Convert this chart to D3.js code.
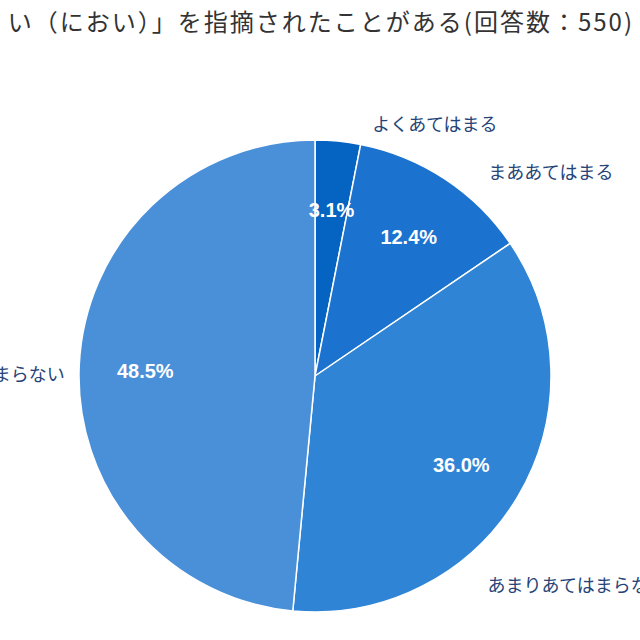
<!DOCTYPE html>
<html><head><meta charset="utf-8">
<script src="https://cdn.jsdelivr.net/npm/d3@7"></script>
<style>body{margin:0;background:#fff}svg{display:block}</style>
</head><body>
<svg id="c" width="640" height="640"></svg>
<script>
const titleText = "い（におい）」を指摘されたことがある(回答数：550)";
const categories = ["よくあてはまる", "まああてはまる", "あまりあてはまらない", "あてはまらない"];
const values = [3.1, 12.4, 36.0, 48.5];
const colors = ["#0563c1", "#1b72cf", "#2f84d6", "#4a90d9"];

const svg = d3.select("#c");
const cx = 315, cy = 376, R = 236;
const g = svg.append("g").attr("transform", `translate(${cx},${cy})`);

const pie = d3.pie().sort(null).value(d => d.v);
const arcs = pie(categories.map((c, i) => ({c, v: values[i], col: colors[i]})));
const arc = d3.arc().innerRadius(0).outerRadius(R);
const inner = d3.arc().innerRadius(R * 0.72).outerRadius(R * 0.72);

g.selectAll("path").data(arcs).join("path")
  .attr("d", arc).attr("fill", d => d.data.col)
  .attr("stroke", "#fff").attr("stroke-width", 1.5).attr("stroke-linejoin", "round");

g.selectAll("text.pct").data(arcs).join("text").attr("class", "pct")
  .attr("transform", d => { const [x, y] = inner.centroid(d); return `translate(${x},${y + 3})`; })
  .attr("text-anchor", "middle").attr("dy", "0.35em")
  .attr("fill", "#fff").attr("font-family", "Arial, 'Liberation Sans', sans-serif")
  .attr("font-weight", "bold").attr("font-size", 20)
  .text(d => d.data.v.toFixed(1) + "%");

// outside category labels (offsets relative to outer-arc point)
const outer = d3.arc().innerRadius(R * 1.1).outerRadius(R * 1.1);
const labelAdj = [[32, 7], [30, 13], [-51, 77], [9, 11]];
g.selectAll("text.cat").data(arcs).join("text").attr("class", "cat")
  .attr("transform", (d, i) => { const [x, y] = outer.centroid(d); return `translate(${x + labelAdj[i][0]},${y + labelAdj[i][1]})`; })
  .attr("text-anchor", d => ((d.startAngle + d.endAngle) / 2 > Math.PI ? "end" : "start"))
  .attr("dy", "0.36em")
  .attr("fill", "#264478").attr("font-family", "'Noto Sans CJK JP', sans-serif")
  .attr("font-size", 18)
  .text(d => d.data.c);

svg.append("text").attr("x", 634).attr("y", 31).attr("text-anchor", "end")
  .attr("fill", "#333").attr("font-family", "'Noto Sans CJK JP', sans-serif")
  .attr("font-size", 24).attr("letter-spacing", 2).text(titleText);
</script>
</body></html>
